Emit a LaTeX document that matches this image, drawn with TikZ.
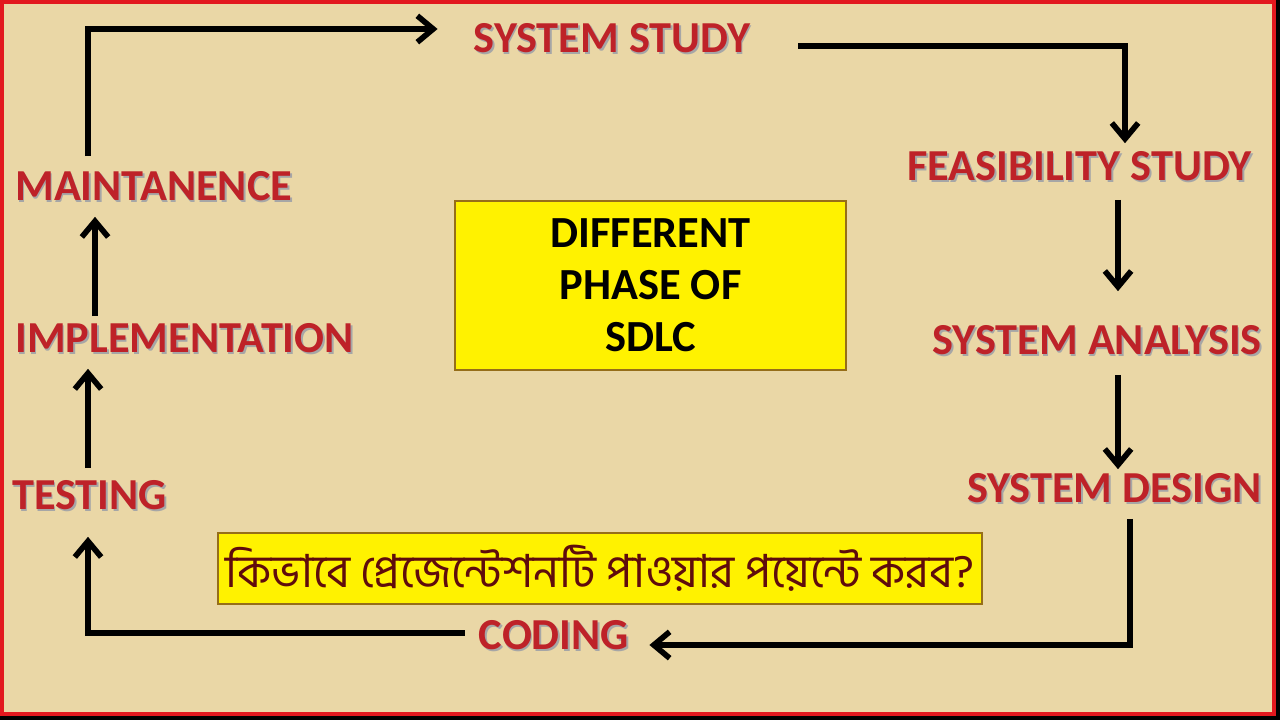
\documentclass[tikz,border=0pt]{standalone}
\usepackage{fontspec}
\setmainfont{Carlito}
\newfontfamily\bnfont[Script=Bengali]{Hind Siliguri}
\usetikzlibrary{arrows.meta,calc}
\definecolor{paper}{RGB}{234,215,166}
\definecolor{phasered}{RGB}{190,34,40}
\definecolor{framered}{RGB}{226,24,30}
\definecolor{boxedge}{RGB}{150,110,25}
\definecolor{bnred}{RGB}{95,12,12}
\newcommand{\Shd}[1]{\makebox[0pt][l]{\hspace{0.9pt}\raisebox{-0.9pt}{\color{black!35}#1}}#1}
\tikzset{
    x=0.02cm, y=-0.02cm,
    phase/.style={inner sep=0pt,font=\fontsize{25.2}{28}\selectfont\bfseries,text=phasered},
    flow/.style={line width=3.2pt,draw=black,-{Straight Barb[length=9pt,width=15pt]}},
    ybox/.style={draw=boxedge,line width=1.1pt,fill=yellow,align=center},
}
\begin{document}
\begin{tikzpicture}
    \useasboundingbox (0,0) rectangle (1280,720);
    \fill[black] (0,0) rectangle (1280,720);
    \fill[paper] (0,0) rectangle (1276,716);
    \draw[framered,line width=2.4pt] (2,2) rectangle (1274,714);

    % phases of the cycle
    \node[phase] (study) at (612,39) {\Shd{SYSTEM STUDY}};
    \node[phase,anchor=east] (feas) at (1252,167) {\Shd{FEASIBILITY STUDY}};
    \node[phase,anchor=east] (analysis) at (1262,341) {\Shd{SYSTEM ANALYSIS}};
    \node[phase,anchor=east] (design) at (1262,489) {\Shd{SYSTEM DESIGN}};
    \node[phase] (coding) at (554,636) {\Shd{CODING}};
    \node[phase,anchor=west] (testing) at (12,496) {\Shd{TESTING}};
    \node[phase,anchor=west] (impl) at (15,339) {\Shd{IMPLEMENTATION}};
    \node[phase,anchor=west] (maint) at (15,187) {\Shd{MAINTANENCE}};

    % boxes
    \node[ybox,minimum width=7.82cm,minimum height=3.38cm,
          font=\fontsize{25.3}{29.6}\selectfont\bfseries] (title) at (650.5,285.5)
          {DIFFERENT\\PHASE OF\\SDLC};
    \node[ybox,minimum width=15.28cm,minimum height=1.42cm,text=bnred,
          font=\bnfont\fontsize{26}{28}\selectfont] (bn) at (600,568.5)
          {কিভাবে প্রেজেন্টেশনটি পাওয়ার পয়েন্টে করব?};

    % arrows
    \draw[flow] ($(maint.north west)+(73,-15)$) |- ($(study.west)+(-36,-10)$);
    \draw[flow] ($(study.east)+(48,7)$) -| ($(feas.north east)+(-127,-8)$);
    \draw[flow] ($(feas.south east)+(-134,17)$) -- ($(analysis.north east)+(-144,-34)$);
    \draw[flow] ($(analysis.south east)+(-144,18)$) -- ($(design.north east)+(-144,-4)$);
    \draw[flow] ($(design.south east)+(-132,14)$) |- ($(coding.east)+(20,9)$);
    \draw[flow] ($(coding.west)+(-14,-3)$) -| ($(testing.south west)+(76,25)$);
    \draw[flow] ($(testing.north west)+(76,-12)$) -- ($(impl.south west)+(73,14)$);
    \draw[flow] ($(impl.north west)+(80,-7)$) -- ($(maint.south west)+(80,14)$);
\end{tikzpicture}
\end{document}
